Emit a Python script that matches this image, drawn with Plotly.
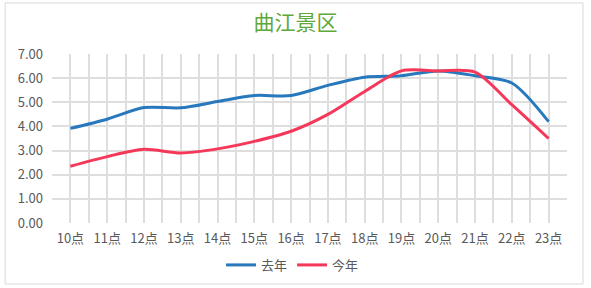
import plotly.graph_objects as go

categories = ["10点", "11点", "12点", "13点", "14点", "15点", "16点",
              "17点", "18点", "19点", "20点", "21点", "22点", "23点"]
last_year = [3.92, 4.3, 4.78, 4.77, 5.03, 5.28, 5.28, 5.7, 6.04, 6.1, 6.3, 6.1, 5.8, 4.2]
this_year = [2.35, 2.75, 3.05, 2.9, 3.07, 3.38, 3.8, 4.5, 5.45, 6.3, 6.3, 6.25, 4.9, 3.5]
y_ticks = [0, 1, 2, 3, 4, 5, 6, 7]

xs = list(range(len(categories)))
grid = "#DEDEDE"
font = "Noto Sans CJK SC"

fig = go.Figure()
fig.add_trace(go.Scatter(x=xs, y=last_year, name="去年", mode="lines",
                         line=dict(color="#2878BE", width=3, shape="spline", smoothing=0.8)))
fig.add_trace(go.Scatter(x=xs, y=this_year, name="今年", mode="lines",
                         line=dict(color="#F5385A", width=3, shape="spline", smoothing=0.8)))

fig.update_layout(
    width=591, height=288,
    margin=dict(l=52, r=24, t=54, b=65, autoexpand=False),
    paper_bgcolor="white", plot_bgcolor="white",
    font=dict(family=font, color="#595959", size=13),
    title=dict(text="曲江景区", x=0.5, xanchor="center", y=0.92, yanchor="middle",
               font=dict(family=font, size=21, color="#5FA83A")),
    legend=dict(orientation="h", xref="container", x=0.495, xanchor="center",
                yref="container", y=0.08, yanchor="middle",
                font=dict(size=13, color="#595959"), tracegroupgap=0),
    showlegend=True,
    shapes=[dict(type="rect", xref="paper", yref="paper", x0=-0.091, x1=1.031,
                 y0=-0.361, y1=1.302, line=dict(color="#D9D9D9", width=1))],
)
fig.update_xaxes(
    range=[-0.5, len(categories) - 0.5],
    tickmode="array", tickvals=xs, ticktext=categories,
    showgrid=True, gridcolor=grid, gridwidth=1.5,
    minor=dict(tickmode="array", tickvals=[i - 0.5 for i in range(len(categories) + 1)],
               showgrid=True, gridcolor=grid, gridwidth=1.5),
    zeroline=False, showline=False, ticks="", ticklabelstandoff=6, automargin=False,
    tickfont=dict(size=13, color="#595959"),
)
fig.update_yaxes(
    range=[0, 7], tickmode="array", tickvals=y_ticks,
    ticktext=[f"{v:.2f}" for v in y_ticks],
    showgrid=True, gridcolor=grid, gridwidth=1.5,
    zeroline=False, showline=False, ticks="", ticklabelstandoff=8, automargin=False,
    tickfont=dict(size=13, color="#595959"),
)

fig.write_html("out.html")
